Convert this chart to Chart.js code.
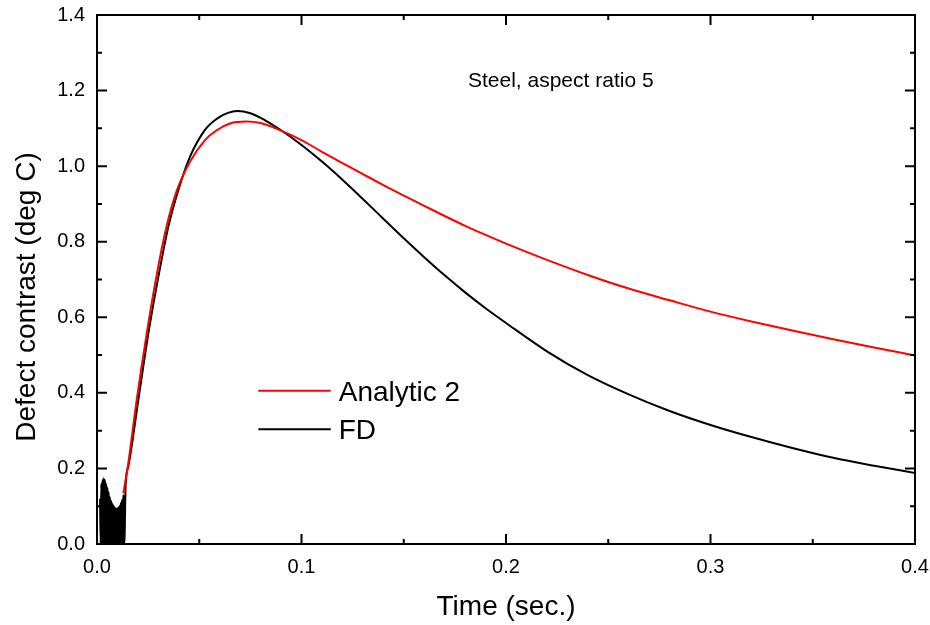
<!DOCTYPE html>
<html>
<head>
<meta charset="utf-8">
<script src="https://cdn.jsdelivr.net/npm/chart.js@4/dist/chart.umd.min.js"></script>
<style>
html,body{margin:0;padding:0;background:#fff;}
#wrap{width:930px;height:625px;position:relative;}
</style>
</head>
<body>
<div id="wrap"><canvas id="c" width="930" height="625"></canvas></div>
<script>
// ---- data ----
const xTicks = [0.0, 0.1, 0.2, 0.3, 0.4];
const yTicks = [0.0, 0.2, 0.4, 0.6, 0.8, 1.0, 1.2, 1.4];

const analyticT = [0.0129, 0.0153, 0.0194, 0.0243, 0.0290, 0.0340, 0.0390, 0.0455, 0.0528, 0.0585, 0.0650, 0.0730, 0.0800, 0.0900, 0.1000, 0.1100, 0.1200, 0.1300, 0.1400, 0.1500, 0.1600, 0.1700, 0.1800, 0.1900, 0.2000, 0.2200, 0.2400, 0.2600, 0.2800, 0.3000, 0.3200, 0.3400, 0.3600, 0.3800, 0.4000];
const analyticY = [0.134, 0.214, 0.381, 0.557, 0.707, 0.840, 0.935, 1.012, 1.069, 1.095, 1.113, 1.118, 1.114, 1.094, 1.069, 1.038, 1.008, 0.979, 0.950, 0.922, 0.895, 0.868, 0.842, 0.818, 0.795, 0.752, 0.712, 0.676, 0.645, 0.615, 0.589, 0.565, 0.542, 0.520, 0.499];

const fdNoiseT = [0.0015, 0.0018, 0.0021, 0.0024, 0.0027, 0.0030, 0.0033, 0.0036, 0.0039, 0.0042, 0.0045, 0.0048, 0.0051, 0.0054, 0.0057, 0.0060, 0.0063, 0.0066, 0.0069, 0.0072, 0.0075, 0.0078, 0.0081, 0.0084, 0.0087, 0.0090, 0.0093, 0.0096, 0.0099, 0.0102, 0.0105, 0.0108, 0.0111, 0.0114, 0.0117, 0.0120, 0.0123, 0.0126, 0.0129, 0.0132, 0.0135];
const fdNoiseY = [0.120, 0.000, 0.160, 0.000, 0.170, 0.000, 0.175, 0.000, 0.170, 0.000, 0.160, 0.000, 0.150, 0.000, 0.138, 0.000, 0.125, 0.000, 0.115, 0.000, 0.108, 0.000, 0.102, 0.000, 0.097, 0.000, 0.095, 0.000, 0.095, 0.000, 0.097, 0.000, 0.102, 0.000, 0.110, 0.000, 0.118, 0.000, 0.130, 0.000, 0.020];
const fdT = [0.0140, 0.0153, 0.0202, 0.0251, 0.0300, 0.0349, 0.0398, 0.0455, 0.0528, 0.0585, 0.0640, 0.0686, 0.0750, 0.0820, 0.0900, 0.1000, 0.1100, 0.1200, 0.1300, 0.1400, 0.1500, 0.1600, 0.1700, 0.1800, 0.1900, 0.2000, 0.2200, 0.2400, 0.2600, 0.2800, 0.3000, 0.3200, 0.3400, 0.3600, 0.3800, 0.4000];
const fdY = [0.155, 0.205, 0.381, 0.557, 0.707, 0.840, 0.937, 1.025, 1.096, 1.125, 1.141, 1.146, 1.140, 1.122, 1.095, 1.056, 1.012, 0.964, 0.913, 0.861, 0.809, 0.759, 0.711, 0.666, 0.624, 0.585, 0.510, 0.447, 0.396, 0.352, 0.315, 0.283, 0.254, 0.228, 0.207, 0.188];

const seriesNames = ['Analytic 2', 'FD'];
const annotationText = 'Steel, aspect ratio 5';
const xTitle = 'Time (sec.)';
const yTitle = 'Defect contrast (deg C)';

// ---- build ----
const FONT = "'Liberation Sans', Arial, sans-serif";
const analyticPts = analyticT.map((t, i) => ({x: t, y: analyticY[i]}));
const fdPts = fdNoiseT.map((t, i) => ({x: t, y: fdNoiseY[i]}))
  .concat(fdT.map((t, i) => ({x: t, y: fdY[i]})));

const framePlugin = {
  id: 'frame',
  afterDatasetsDraw(chart) {
    const {ctx, chartArea: a, scales} = chart;
    const xs = scales.x, ys = scales.y;
    ctx.save();
    ctx.strokeStyle = '#000';
    ctx.lineWidth = 2;
    ctx.lineCap = 'butt';
    ctx.strokeRect(a.left, a.top, a.right - a.left, a.bottom - a.top);
    const MAJ = 10, MIN = 5;
    ctx.beginPath();
    for (let i = 0; i < xTicks.length; i++) {
      const px = xs.getPixelForValue(xTicks[i]);
      ctx.moveTo(px, a.bottom); ctx.lineTo(px, a.bottom - MAJ);
      ctx.moveTo(px, a.top); ctx.lineTo(px, a.top + MAJ);
      if (i < xTicks.length - 1) {
        const pm = xs.getPixelForValue((xTicks[i] + xTicks[i + 1]) / 2);
        ctx.moveTo(pm, a.bottom); ctx.lineTo(pm, a.bottom - MIN);
        ctx.moveTo(pm, a.top); ctx.lineTo(pm, a.top + MIN);
      }
    }
    for (let i = 0; i < yTicks.length; i++) {
      const py = ys.getPixelForValue(yTicks[i]);
      ctx.moveTo(a.left, py); ctx.lineTo(a.left + MAJ, py);
      ctx.moveTo(a.right, py); ctx.lineTo(a.right - MAJ, py);
      if (i < yTicks.length - 1) {
        const pm = ys.getPixelForValue((yTicks[i] + yTicks[i + 1]) / 2);
        ctx.moveTo(a.left, pm); ctx.lineTo(a.left + MIN, pm);
        ctx.moveTo(a.right, pm); ctx.lineTo(a.right - MIN, pm);
      }
    }
    ctx.stroke();

    ctx.fillStyle = '#000';
    ctx.textBaseline = 'alphabetic';

    // annotation text
    ctx.font = '21px ' + FONT;
    ctx.textAlign = 'left';
    ctx.fillText(annotationText, xs.getPixelForValue(0.1814), ys.getPixelForValue(1.228) + 7.5);

    // legend
    const lx0 = xs.getPixelForValue(0.0789), lx1 = xs.getPixelForValue(0.1143);
    const legY = [ys.getPixelForValue(0.4057), ys.getPixelForValue(0.3035)];
    ctx.font = '28px ' + FONT;
    chart.data.datasets.forEach((ds, i) => {
      ctx.beginPath();
      ctx.strokeStyle = ds.borderColor;
      ctx.lineWidth = 2;
      ctx.moveTo(lx0, legY[i]); ctx.lineTo(lx1, legY[i]);
      ctx.stroke();
      ctx.fillStyle = '#000';
      ctx.fillText(ds.label, lx1 + 8, legY[i] + 10);
    });

    // axis titles
    ctx.textAlign = 'center';
    ctx.fillText(xTitle, (a.left + a.right) / 2, 615);
    ctx.save();
    ctx.translate(35, 297);
    ctx.rotate(-Math.PI / 2);
    ctx.fillText(yTitle, 0, 0);
    ctx.restore();
    ctx.restore();
  }
};

new Chart(document.getElementById('c'), {
  type: 'line',
  data: {
    datasets: [
      {label: seriesNames[0], data: analyticPts, borderColor: '#ff0000', borderWidth: 2, pointRadius: 0, cubicInterpolationMode: 'monotone', fill: false},
      {label: seriesNames[1], data: fdPts, borderColor: '#000000', borderWidth: 2, pointRadius: 0, cubicInterpolationMode: 'monotone', fill: false}
    ]
  },
  options: {
    responsive: false,
    animation: false,
    layout: {padding: {top: 15, right: 15, left: 0, bottom: 0}},
    plugins: {legend: {display: false}, tooltip: {enabled: false}},
    scales: {
      x: {
        type: 'linear', min: 0, max: 0.4,
        afterBuildTicks(s) { s.ticks = xTicks.map(v => ({value: v})); },
        afterFit(s) { s.height = 81; s.paddingLeft = 0; s.paddingRight = 0; s.paddingTop = 0; s.paddingBottom = 0; },
        grid: {display: false, drawTicks: false},
        border: {display: false},
        ticks: {color: '#000', font: {family: FONT, size: 20}, padding: 11, maxRotation: 0, callback: v => v.toFixed(1)},
        title: {display: false}
      },
      y: {
        type: 'linear', min: 0, max: 1.4,
        afterBuildTicks(s) { s.ticks = yTicks.map(v => ({value: v})); },
        afterFit(s) { s.width = 97; s.paddingLeft = 0; s.paddingRight = 0; s.paddingTop = 0; s.paddingBottom = 0; },
        grid: {display: false, drawTicks: false},
        border: {display: false},
        ticks: {color: '#000', font: {family: FONT, size: 20}, padding: 12, callback: v => v.toFixed(1)},
        title: {display: false}
      }
    }
  },
  plugins: [framePlugin]
});
</script>
</body>
</html>
